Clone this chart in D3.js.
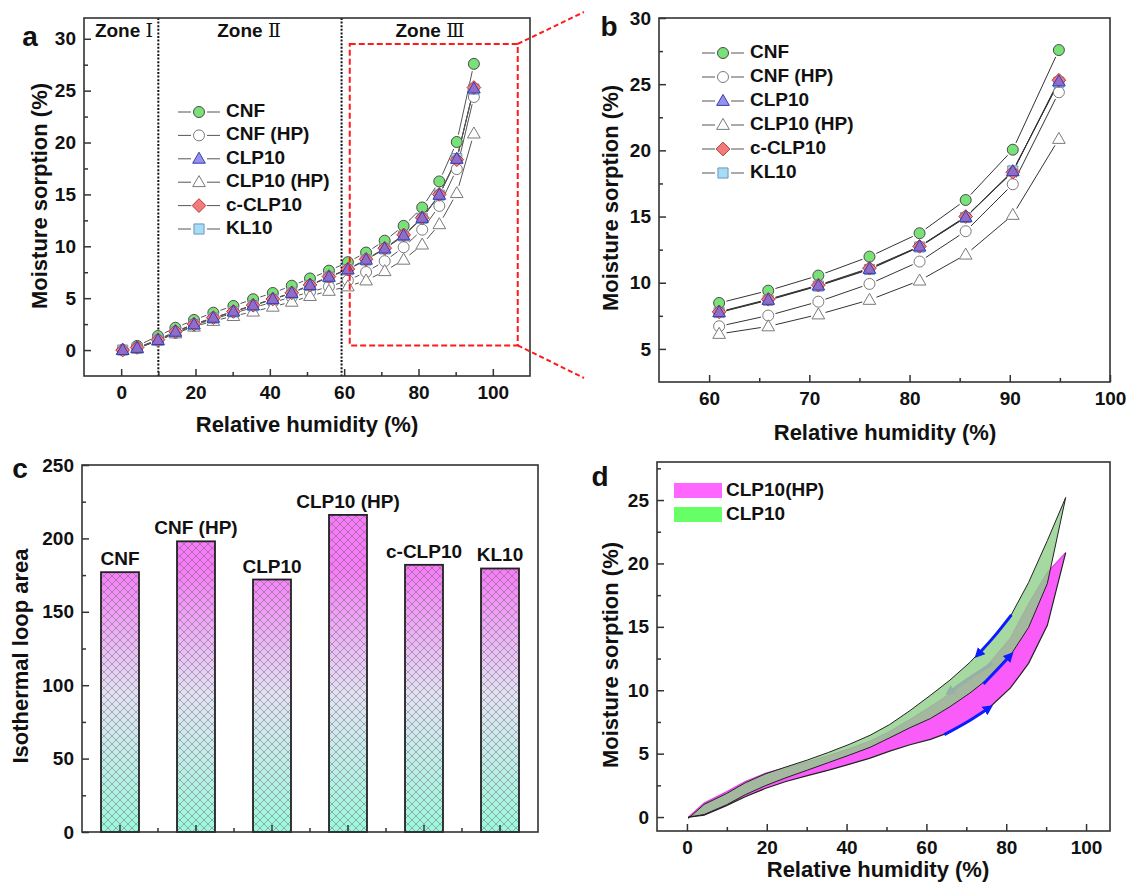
<!DOCTYPE html>
<html>
<head>
<meta charset="utf-8">
<script src="https://cdn.jsdelivr.net/npm/d3@7"></script>
<style>
  body { margin: 0; background: #fff; }
  text { font-family: 'Liberation Sans', Arial, Helvetica, sans-serif; font-weight: bold; fill: #111; }
</style>
</head>
<body>
<svg id="fig" width="1126" height="884"></svg>
<script>
// ---- data ----
const rh      = [0.4, 4.3, 9.9, 14.6, 19.6, 24.8, 30.2, 35.5, 40.8, 45.9, 50.8, 55.9, 61.0, 65.9, 70.9, 76.0, 81.0, 85.6, 90.3, 94.9];
const cnf     = [0.0, 0.40, 1.35, 2.15, 2.90, 3.60, 4.25, 4.90, 5.50, 6.20, 6.90, 7.65, 8.47, 9.40, 10.54, 11.97, 13.74, 16.25, 20.05, 27.58];
const cnfHP   = [0.0, 0.20, 0.90, 1.65, 2.35, 3.00, 3.55, 4.10, 4.60, 5.10, 5.60, 6.10, 6.71, 7.52, 8.57, 9.91, 11.60, 13.89, 17.44, 24.39];
const clp10   = [0.0, 0.20, 0.96, 1.76, 2.47, 3.10, 3.70, 4.30, 4.90, 5.50, 6.25, 7.05, 7.77, 8.70, 9.78, 11.04, 12.73, 14.95, 18.42, 25.20];
const clp10HP = [0.0, 0.15, 0.90, 1.60, 2.25, 2.80, 3.27, 3.70, 4.17, 4.65, 5.20, 5.70, 6.13, 6.70, 7.60, 8.70, 10.16, 12.12, 15.12, 20.86];
const cclp10  = [0.0, 0.25, 1.00, 1.80, 2.50, 3.12, 3.72, 4.32, 4.92, 5.52, 6.28, 7.08, 7.80, 8.75, 9.82, 11.10, 12.75, 15.00, 18.35, 25.30];
const kl10    = [0.0, 0.18, 0.95, 1.74, 2.45, 3.08, 3.68, 4.28, 4.88, 5.48, 6.22, 7.02, 7.75, 8.68, 9.75, 11.00, 12.70, 14.93, 18.45, 25.15];

// desorption branches (panel d)
const clp10Des   = [-0.1, 1.0, 1.85, 2.7, 3.4, 3.95, 4.5, 5.1, 5.75, 6.45, 7.3, 8.4, 9.6, 10.8, 12.2, 13.9, 15.8, 18.5, 21.8, 25.2];
const clp10HPDes = [0.0, 1.1, 2.0, 2.8, 3.45, 3.9, 4.35, 4.85, 5.4, 6.0, 6.75, 7.7, 8.7, 9.7, 10.8, 12.2, 14.1, 16.8, 19.3, 20.86];

// panel c
const barNames = ["CNF", "CNF (HP)", "CLP10", "CLP10 (HP)", "c-CLP10", "KL10"];
const loopArea = [177, 198, 172, 216, 182, 179.5];

// zone borders (panel a)
const zoneLines = [10, 59.3];
const zones = [{ name: "Ⅰ", x: 124 }, { name: "Ⅱ", x: 249 }, { name: "Ⅲ", x: 430 }];

const svg = d3.select("#fig");
const defs = svg.append("defs");

const series = [
  { name: "CNF",        vals: cnf,     shape: "circle",   fill: "#78e278", stroke: "#4a4a4a", op: 1 },
  { name: "CNF (HP)",   vals: cnfHP,   shape: "circle",   fill: "#ffffff", stroke: "#7a7a7a", op: 1 },
  { name: "CLP10",      vals: clp10,   shape: "triangle", fill: "#6a6ae6", stroke: "#3a3ab0", op: 0.72 },
  { name: "CLP10 (HP)", vals: clp10HP, shape: "triangle", fill: "#ffffff", stroke: "#7a7a7a", op: 1 },
  { name: "c-CLP10",    vals: cclp10,  shape: "diamond",  fill: "#f27c7c", stroke: "#b53a3a", op: 1 },
  { name: "KL10",       vals: kl10,    shape: "square",   fill: "#a6dcf7", stroke: "#6d97b5", op: 1 }
];
const drawOrder = [0, 1, 3, 5, 4, 2];

function shapePath(type, r) {
  if (type === "circle") return `M${r},0A${r},${r} 0 1,1 ${-r},0A${r},${r} 0 1,1 ${r},0Z`;
  if (type === "triangle") return `M0,${-r * 1.2}L${r * 1.15},${r * 0.8}L${-r * 1.15},${r * 0.8}Z`;
  if (type === "diamond") return `M0,${-r * 1.25}L${r * 1.25},0L0,${r * 1.25}L${-r * 1.25},0Z`;
  return `M${-r * 0.92},${-r * 0.92}h${r * 1.84}v${r * 1.84}h${-r * 1.84}Z`;
}

function marker(g, s, cx, cy, r) {
  g.append("path")
    .attr("d", shapePath(s.shape, r))
    .attr("transform", `translate(${cx},${cy})`)
    .attr("fill", s.fill)
    .attr("fill-opacity", s.op)
    .attr("stroke", s.stroke)
    .attr("stroke-width", 1);
}

// line segments with a gap around each symbol
function gapLines(g, pts, gap, color) {
  for (let i = 0; i < pts.length - 1; i++) {
    const [ax, ay] = pts[i], [bx, by] = pts[i + 1];
    const dx = bx - ax, dy = by - ay, L = Math.hypot(dx, dy);
    if (L <= 2 * gap + 1) continue;
    const ux = dx / L, uy = dy / L;
    g.append("line")
      .attr("x1", ax + ux * gap).attr("y1", ay + uy * gap)
      .attr("x2", bx - ux * gap).attr("y2", by - uy * gap)
      .attr("stroke", color).attr("stroke-width", 1);
  }
}

function styleAxis(g) {
  g.select(".domain").remove();
  g.selectAll(".tick line").attr("stroke", "#333").attr("stroke-width", 1.5);
  g.selectAll(".tick text").attr("font-size", 19);
}

function drawAxes(x, y, xMaj, xMin, yMaj, yMin) {
  const [xl, xr] = x.range(), [yb, yt] = y.range();
  svg.append("g").attr("transform", `translate(0,${yb})`)
    .call(d3.axisBottom(x).tickValues(xMaj).tickSizeInner(-7).tickSizeOuter(0).tickPadding(10).tickFormat(d3.format("d")))
    .call(styleAxis);
  svg.append("g").attr("transform", `translate(0,${yb})`)
    .call(d3.axisBottom(x).tickValues(xMin).tickSizeInner(-4).tickSizeOuter(0).tickFormat(""))
    .call(styleAxis);
  svg.append("g").attr("transform", `translate(${xl},0)`)
    .call(d3.axisLeft(y).tickValues(yMaj).tickSizeInner(-7).tickSizeOuter(0).tickPadding(8).tickFormat(d3.format("d")))
    .call(styleAxis);
  svg.append("g").attr("transform", `translate(${xl},0)`)
    .call(d3.axisLeft(y).tickValues(yMin).tickSizeInner(-4).tickSizeOuter(0).tickFormat(""))
    .call(styleAxis);
  svg.append("rect")
    .attr("x", xl).attr("y", yt).attr("width", xr - xl).attr("height", yb - yt)
    .attr("fill", "none").attr("stroke", "#333").attr("stroke-width", 1.6);
}

function titles(letter, lx, ly, xt, xtx, xty, yt, ytx, yty) {
  svg.append("text").attr("x", lx).attr("y", ly).attr("font-size", 28).attr("text-anchor", "middle").text(letter);
  if (xt) svg.append("text").attr("x", xtx).attr("y", xty).attr("font-size", 22)
    .attr("text-anchor", "middle").attr("dominant-baseline", "middle").text(xt);
  svg.append("text").attr("transform", `translate(${ytx},${yty}) rotate(-90)`).attr("font-size", 22)
    .attr("text-anchor", "middle").attr("dominant-baseline", "middle").text(yt);
}

function legend(x0, y0, dy) {
  const g = svg.append("g");
  series.forEach((s, i) => {
    const yy = y0 + i * dy;
    g.append("line").attr("x1", x0 - 21).attr("x2", x0 + 21).attr("y1", yy).attr("y2", yy)
      .attr("stroke", "#555").attr("stroke-width", 1);
    g.append("rect").attr("x", x0 - 8).attr("y", yy - 8).attr("width", 16).attr("height", 16).attr("fill", "#fff");
    marker(g, s, x0, yy, 5.5);
    g.append("text").attr("x", x0 + 27).attr("y", yy).attr("dominant-baseline", "middle")
      .attr("font-size", 19).text(s.name);
  });
}

function sorptionSeries(x, y, keep, lineColor) {
  const gl = svg.append("g"), gm = svg.append("g");
  series.forEach(s => {
    const pts = rh.map((r, i) => [r, s.vals[i]]).filter(d => keep(d[0])).map(d => [x(d[0]), y(d[1])]);
    gapLines(gl, pts, 7.5, lineColor);
  });
  drawOrder.forEach(k => {
    const s = series[k];
    rh.forEach((r, i) => { if (keep(r)) marker(gm, s, x(r), y(s.vals[i]), 5.5); });
  });
}

// ================= panel a =================
const xa = d3.scaleLinear().domain([-10, 110]).range([84, 530]);
const ya = d3.scaleLinear().domain([-2.5, 32]).range([376, 18]);

zoneLines.forEach(z => {
  svg.append("line").attr("x1", xa(z)).attr("x2", xa(z)).attr("y1", ya(32)).attr("y2", ya(-2.5))
    .attr("stroke", "#111").attr("stroke-width", 2).attr("stroke-dasharray", "2,1.6");
});
zones.forEach(z => {
  const t = svg.append("text").attr("x", z.x).attr("y", 37).attr("font-size", 19).attr("text-anchor", "middle");
  t.append("tspan").text("Zone ");
  t.append("tspan").attr("font-family", "'DejaVu Serif', 'Liberation Serif', serif").attr("font-weight", "normal").text(z.name);
});

sorptionSeries(xa, ya, () => true, "#555");
drawAxes(xa, ya, [0, 20, 40, 60, 80, 100], [10, 30, 50, 70, 90],
  [0, 5, 10, 15, 20, 25, 30], [2.5, 7.5, 12.5, 17.5, 22.5, 27.5]);
legend(199, 112, 23.4);
titles("a", 30, 46, "Relative humidity (%)", 307, 426, "Moisture sorption (%)", 41, 196);

// zoom box
const zx0 = 61.5, zx1 = 106.7, zy0 = 0.45, zy1 = 29.5;
svg.append("rect").attr("x", xa(zx0)).attr("y", ya(zy1)).attr("width", xa(zx1) - xa(zx0)).attr("height", ya(zy0) - ya(zy1))
  .attr("fill", "none").attr("stroke", "#ff1a1a").attr("stroke-width", 2).attr("stroke-dasharray", "6,3");
svg.append("line").attr("x1", xa(zx1)).attr("y1", ya(zy1)).attr("x2", 584).attr("y2", 12)
  .attr("stroke", "#ff1a1a").attr("stroke-width", 2).attr("stroke-dasharray", "5,3");
svg.append("line").attr("x1", xa(zx1)).attr("y1", ya(zy0)).attr("x2", 584).attr("y2", 378)
  .attr("stroke", "#ff1a1a").attr("stroke-width", 2).attr("stroke-dasharray", "5,3");

// ================= panel b =================
const xb = d3.scaleLinear().domain([55, 100]).range([659, 1110]);
const yb = d3.scaleLinear().domain([2.5, 30]).range([382, 18]);
sorptionSeries(xb, yb, r => r > 60, "#333");
drawAxes(xb, yb, [60, 70, 80, 90, 100], [65, 75, 85, 95],
  [5, 10, 15, 20, 25, 30], [7.5, 12.5, 17.5, 22.5, 27.5]);
legend(723, 53, 24);
titles("b", 609, 36, "Relative humidity (%)", 885, 434, "Moisture sorption (%)", 612, 198);

// ================= panel c =================
const xc = d3.scaleBand().domain(barNames).range([82, 538]).paddingInner(0.5).paddingOuter(0.25);
const yc = d3.scaleLinear().domain([0, 250]).range([832, 465]);

const grad = defs.append("linearGradient").attr("id", "barGrad")
  .attr("gradientUnits", "userSpaceOnUse").attr("x1", 0).attr("x2", 0).attr("y1", yc(0)).attr("y2", yc(180));
grad.append("stop").attr("offset", "0%").attr("stop-color", "#9cf8dc");
grad.append("stop").attr("offset", "52%").attr("stop-color", "#e3e2f4");
grad.append("stop").attr("offset", "100%").attr("stop-color", "#f57cf6");

const hatch = defs.append("pattern").attr("id", "hatch").attr("patternUnits", "userSpaceOnUse")
  .attr("width", 8).attr("height", 8);
hatch.append("path").attr("d", "M0,0L8,8M8,0L0,8M-1,7L1,9M7,-1L9,1M-1,1L1,-1M7,9L9,7")
  .attr("stroke", "#555").attr("stroke-opacity", 0.6).attr("stroke-width", 0.7).attr("fill", "none");

const bars = svg.append("g").selectAll("g").data(barNames).join("g");
bars.append("rect").attr("x", d => xc(d)).attr("y", (d, i) => yc(loopArea[i]))
  .attr("width", xc.bandwidth()).attr("height", (d, i) => yc(0) - yc(loopArea[i]))
  .attr("fill", "url(#barGrad)");
bars.append("rect").attr("x", d => xc(d)).attr("y", (d, i) => yc(loopArea[i]))
  .attr("width", xc.bandwidth()).attr("height", (d, i) => yc(0) - yc(loopArea[i]))
  .attr("fill", "url(#hatch)").attr("stroke", "#222").attr("stroke-width", 1.8);
bars.append("text").attr("x", d => xc(d) + xc.bandwidth() / 2).attr("y", (d, i) => yc(loopArea[i]) - 7)
  .attr("text-anchor", "middle").attr("font-size", 19).text(d => d);

svg.append("g").attr("transform", `translate(0,${yc(0)})`)
  .call(d3.axisBottom(xc).tickSizeInner(-7).tickSizeOuter(0).tickFormat(""))
  .call(styleAxis);
svg.append("g").selectAll("line").data(barNames.slice(1)).join("line")
  .attr("x1", d => xc(d) - xc.step() * 0.25).attr("x2", d => xc(d) - xc.step() * 0.25)
  .attr("y1", yc(0)).attr("y2", yc(0) - 4).attr("stroke", "#333").attr("stroke-width", 1.5);
svg.append("g").attr("transform", `translate(82,0)`)
  .call(d3.axisLeft(yc).tickValues([0, 50, 100, 150, 200, 250]).tickSizeInner(-7).tickSizeOuter(0).tickPadding(8))
  .call(styleAxis);
svg.append("g").attr("transform", `translate(82,0)`)
  .call(d3.axisLeft(yc).tickValues([25, 75, 125, 175, 225]).tickSizeInner(-4).tickSizeOuter(0).tickFormat(""))
  .call(styleAxis);
svg.append("rect").attr("x", 82).attr("y", yc(250)).attr("width", 538 - 82).attr("height", yc(0) - yc(250))
  .attr("fill", "none").attr("stroke", "#333").attr("stroke-width", 1.6);
titles("c", 20, 478, null, 0, 0, "Isothermal loop area", 22, 656);

// ================= panel d =================
const xd = d3.scaleLinear().domain([-7.5, 106]).range([657, 1110]);
const yd = d3.scaleLinear().domain([-1.1, 28]).range([831, 462]);
const loopLine = d3.line().x(d => xd(d[0])).y(d => yd(d[1]));
const branch = vals => rh.map((r, i) => [r, vals[i]]);
const loop = (ads, des) => branch(ads).concat(branch(des).reverse());

// CLP10(HP) loop
svg.append("path").attr("d", loopLine(loop(clp10HP, clp10HPDes)) + "Z").attr("fill", "#f95cf9");
svg.append("path").attr("d", loopLine(branch(clp10HPDes))).attr("fill", "none")
  .attr("stroke", "#e040e0").attr("stroke-width", 1.2);
svg.append("path").attr("d", loopLine(branch(clp10HP))).attr("fill", "none")
  .attr("stroke", "#222").attr("stroke-width", 1.2);
// CLP10 loop on top
svg.append("path").attr("d", loopLine(loop(clp10, clp10Des)) + "Z")
  .attr("fill", "#8fd08a").attr("fill-opacity", 0.8).attr("stroke", "#222").attr("stroke-width", 1).attr("stroke-linejoin", "round");

defs.append("marker").attr("id", "head").attr("viewBox", "0 0 10 10").attr("refX", 3).attr("refY", 5)
  .attr("markerWidth", 3.4).attr("markerHeight", 3.4).attr("orient", "auto")
  .append("path").attr("d", "M0,0L10,5L0,10Z").attr("fill", "#0b1cff");
defs.append("marker").attr("id", "headFaint").attr("viewBox", "0 0 10 10").attr("refX", 3).attr("refY", 5)
  .attr("markerWidth", 3.4).attr("markerHeight", 3.4).attr("orient", "auto")
  .append("path").attr("d", "M0,0L10,5L0,10Z").attr("fill", "#94b0a8");

const arrows = [
  { pts: [[64.5, 6.5], [70, 7.45], [75.2, 8.5]], faint: false },
  { pts: [[74.3, 10.5], [77.5, 11.55], [80.6, 12.6]], faint: false },
  { pts: [[81.3, 15.95], [77, 14.25], [73.3, 12.95]], faint: false },
  { pts: [[76.5, 12.1], [71, 11.0], [66.2, 9.95]], faint: true }
];
const arrowLine = d3.line().x(d => xd(d[0])).y(d => yd(d[1])).curve(d3.curveCatmullRom);
arrows.forEach(a => {
  svg.append("path").attr("d", arrowLine(a.pts)).attr("fill", "none")
    .attr("stroke", a.faint ? "#94b0a8" : "#0b1cff").attr("stroke-width", 3)
    .attr("marker-end", a.faint ? "url(#headFaint)" : "url(#head)");
});

drawAxes(xd, yd, [0, 20, 40, 60, 80, 100], [10, 30, 50, 70, 90],
  [0, 5, 10, 15, 20, 25], [2.5, 7.5, 12.5, 17.5, 22.5, 27.5]);

const dLegend = [{ name: "CLP10(HP)", color: "#ff66ff" }, { name: "CLP10", color: "#66ff66" }];
dLegend.forEach((l, i) => {
  svg.append("rect").attr("x", 674).attr("y", 483 + i * 24).attr("width", 48).attr("height", 15).attr("fill", l.color);
  svg.append("text").attr("x", 726).attr("y", 491 + i * 24).attr("dominant-baseline", "middle")
    .attr("font-size", 19).text(l.name);
});
titles("d", 600, 486, "Relative humidity (%)", 878, 871, "Moisture sorption (%)", 612, 655);
</script>
</body>
</html>
